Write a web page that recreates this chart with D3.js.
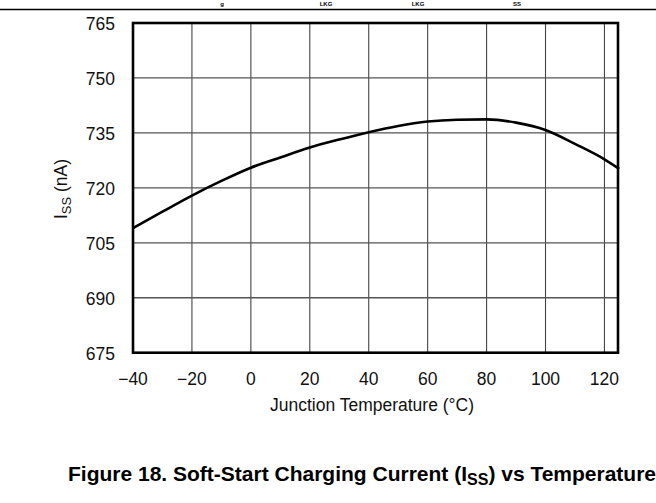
<!DOCTYPE html>
<html><head><meta charset="utf-8">
<script src="https://cdn.jsdelivr.net/npm/d3@7"></script>
<style>body{margin:0;background:#fff}svg{display:block;font-family:Arial,"Liberation Sans",sans-serif}</style>
</head><body><svg id="c" width="656" height="503"></svg>
<script>
const temps = [-40,-30,-20,-10,0,10,20,30,40,50,60,70,80,90,100,110,120,125];
const issValues = [709.0,713.5,717.9,721.9,725.5,728.3,731.0,733.2,735.2,736.9,738.1,738.6,738.7,737.8,735.8,732.0,727.8,725.2];
const xTicks = [-40,-20,0,20,40,60,80,100,120];
const yTicks = [675,690,705,720,735,750,765];

const svg = d3.select("#c");
const x = d3.scaleLinear().domain([-40,124.6]).range([133,618]);
const y = d3.scaleLinear().domain([675,765]).range([352.7,23]);

// top rule and the cut-off caption fragments above it
svg.append("line").attr("x1",0).attr("x2",656).attr("y1",9.5).attr("y2",9.5).attr("stroke","#000").attr("stroke-width",1.3);
const frag = [["g",222],["LKG",326],["LKG",418],["SS",517]];
svg.selectAll("text.frag").data(frag).join("text").attr("class","frag")
  .attr("x",d=>d[1]).attr("y",6).attr("font-size",6).attr("font-weight","bold").attr("text-anchor","middle").text(d=>d[0]);

// grid
svg.append("g").selectAll("line").data(xTicks.slice(1)).join("line")
  .attr("x1",d=>x(d)).attr("x2",d=>x(d)).attr("y1",y(765)).attr("y2",y(675))
  .attr("stroke","#444").attr("stroke-width",1.1);
svg.append("g").selectAll("line").data(yTicks.slice(1,-1)).join("line")
  .attr("x1",x(-40)).attr("x2",x(124.6)).attr("y1",d=>y(d)).attr("y2",d=>y(d))
  .attr("stroke","#555").attr("stroke-width",1.3);

// curve
const line = d3.line().x((d,i)=>x(temps[i])).y(d=>y(d)).curve(d3.curveMonotoneX);
svg.append("path").attr("d",line(issValues)).attr("fill","none").attr("stroke","#000").attr("stroke-width",2.6);

// frame
svg.append("rect").attr("x",x(-40)).attr("y",y(765)).attr("width",x(124.6)-x(-40)).attr("height",y(675)-y(765))
  .attr("fill","none").attr("stroke","#000").attr("stroke-width",2.6);

// tick labels
svg.append("g").selectAll("text").data(yTicks).join("text")
  .attr("x",115).attr("y",d=>y(d)+7).attr("text-anchor","end").attr("font-size",17.5).attr("fill","#111")
  .text(d=>d);
svg.append("g").selectAll("text").data(xTicks).join("text")
  .attr("x",d=>x(d)).attr("y",385).attr("text-anchor","middle").attr("font-size",17.5).attr("fill","#111")
  .text(d=>d<0?"\u2212"+Math.abs(d):d);

// axis titles
svg.append("text").attr("x",372).attr("y",411).attr("text-anchor","middle").attr("font-size",17.5).attr("fill","#111")
  .text("Junction Temperature (\u00B0C)");
const yl = svg.append("text").attr("transform","translate(67,189) rotate(-90)").attr("text-anchor","middle").attr("font-size",17.5).attr("fill","#111");
yl.append("tspan").text("I");
yl.append("tspan").attr("font-size",13).attr("dy",4).text("SS");
yl.append("tspan").attr("dy",-4).text(" (nA)");

// caption
const cap = svg.append("text").attr("x",68).attr("y",481).attr("font-size",21).attr("font-weight","bold").attr("fill","#000");
cap.append("tspan").text("Figure 18. Soft-Start Charging Current (I");
cap.append("tspan").attr("font-size",16).attr("dy",4).text("SS");
cap.append("tspan").attr("dy",-4).text(") vs Temperature");
</script></body></html>
